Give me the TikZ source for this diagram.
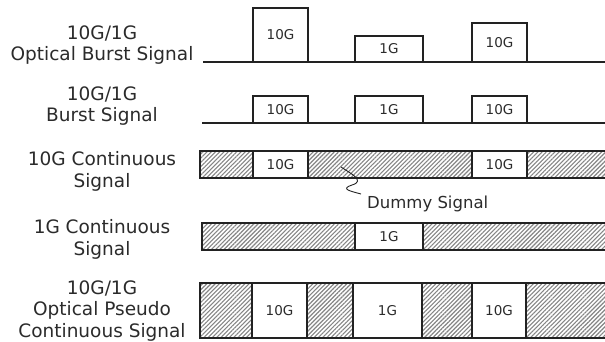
\documentclass[tikz,border=0pt]{standalone}
\usepackage{fontspec}
\setmainfont{DejaVu Sans}
\usetikzlibrary{patterns.meta}
\definecolor{txt}{HTML}{2B2B2B}
\definecolor{edge}{HTML}{222222}
\definecolor{hatch}{HTML}{858585}
\begin{document}
\begin{tikzpicture}[x=1pt,y=-1pt,
  lbl/.style={align=center,font=\fontsize{18.5}{21.5}\selectfont,text=txt,anchor=base,inner sep=0},
  pulse/.style={draw=edge,line width=1.3pt,fill=white,inner sep=0,outer sep=0,anchor=north west,
    font=\fontsize{13.5}{16}\selectfont,text=txt},
  dummyseg/.style={draw=edge,line width=1.3pt,inner sep=0,outer sep=0,anchor=north west,
    pattern={Lines[angle=45,distance=3pt,line width=1.1pt]},pattern color=hatch},
  sig/.style={draw=edge,line width=1.3pt}
]
\useasboundingbox (0,0) rectangle (605,342);
\fill[white] (0,0) rectangle (605,342);

% labels (anchor = baseline of last line)
\node[lbl] (l1) at (102,61) {10G/1G\\Optical Burst Signal};
\node[lbl] (l2) at (102,122) {10G/1G\\Burst Signal};
\node[lbl] (l3) at (102,187) {10G Continuous\\Signal};
\node[lbl] (l4) at (102,255) {1G Continuous\\Signal};
\node[lbl] (l5) at (102,337) {10G/1G\\Optical Pseudo\\Continuous Signal};

% row 1
\coordinate (r1s) at (203,62);
\coordinate (r1e) at (607,62);
\draw[sig] (r1s) -- (r1e);
\node[pulse,minimum width=55pt,minimum height=54pt] (a1) at (253,8) {10G};
\node[pulse,minimum width=68pt,minimum height=26pt] (b1) at (355,36) {1G};
\node[pulse,minimum width=55pt,minimum height=39pt] (c1) at (472,23) {10G};

% row 2
\coordinate (r2s) at (202,123);
\coordinate (r2e) at (607,123);
\draw[sig] (r2s) -- (r2e);
\node[pulse,minimum width=55pt,minimum height=27pt] (a2) at (253,96) {10G};
\node[pulse,minimum width=68pt,minimum height=27pt] (b2) at (355,96) {1G};
\node[pulse,minimum width=55pt,minimum height=27pt] (c2) at (472,96) {10G};

% row 3
\node[dummyseg,minimum width=53pt,minimum height=27pt] (h31) at (200,151) {};
\node[pulse,minimum width=55pt,minimum height=27pt] (a3) at (253,151) {10G};
\node[dummyseg,minimum width=164pt,minimum height=27pt] (h32) at (308,151) {};
\node[pulse,minimum width=55pt,minimum height=27pt] (c3) at (472,151) {10G};
\node[dummyseg,minimum width=82pt,minimum height=27pt] (h33) at (527,151) {};

% dummy signal callout
\coordinate (sq) at (341,167);
\coordinate (sqend) at (361,194);
\draw[edge,line width=0.9pt] (sq) .. controls (350,173) and (366,181) .. (352,185)
  .. controls (340,189) and (350,191) .. (sqend);
\node[font=\fontsize{16.5}{19}\selectfont,text=txt,anchor=base west,inner sep=0] (dm) at (367,208) {Dummy Signal};

% row 4
\node[dummyseg,minimum width=153pt,minimum height=27pt] (h41) at (202,223) {};
\node[pulse,minimum width=68pt,minimum height=27pt] (b4) at (355,223) {1G};
\node[dummyseg,minimum width=186pt,minimum height=27pt] (h42) at (423,223) {};

% row 5
\node[dummyseg,minimum width=52pt,minimum height=55pt] (h51) at (200,283) {};
\node[pulse,minimum width=55pt,minimum height=55pt] (a5) at (252,283) {10G};
\node[dummyseg,minimum width=46pt,minimum height=55pt] (h52) at (307,283) {};
\node[pulse,minimum width=69pt,minimum height=55pt] (b5) at (353,283) {1G};
\node[dummyseg,minimum width=50pt,minimum height=55pt] (h53) at (422,283) {};
\node[pulse,minimum width=54pt,minimum height=55pt] (c5) at (472,283) {10G};
\node[dummyseg,minimum width=83pt,minimum height=55pt] (h54) at (526,283) {};
\end{tikzpicture}
\end{document}
